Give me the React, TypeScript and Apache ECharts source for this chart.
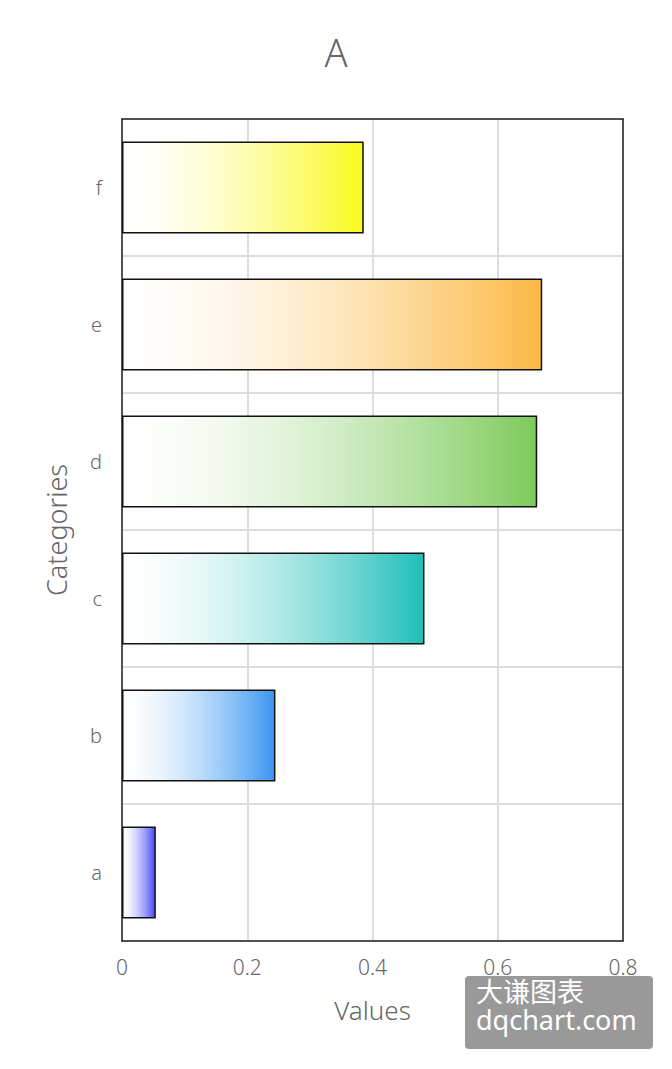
import React, { useEffect, useRef } from "react";
import * as echarts from "echarts";

const categories = ["a", "b", "c", "d", "e", "f"];
const values = [0.054, 0.245, 0.483, 0.663, 0.671, 0.386];
const barColors = ["#4a4af8", "#3a96f0", "#1fbfb8", "#7ccb5a", "#fbb843", "#f9f91c"];
const xTicks = [0, 0.2, 0.4, 0.6, 0.8];

function hexToRgb(hex: string) {
  const n = parseInt(hex.slice(1), 16);
  return [(n >> 16) & 255, (n >> 8) & 255, n & 255];
}

function gradientFor(hex: string) {
  const [r, g, b] = hexToRgb(hex);
  const stops = [];
  for (let k = 0; k <= 8; k++) {
    const t = k / 8;
    const a = Math.pow(t, 1.6);
    const mix = (c: number) => Math.round(255 + (c - 255) * a);
    stops.push({ offset: t, color: `rgb(${mix(r)},${mix(g)},${mix(b)})` });
  }
  return new echarts.graphic.LinearGradient(0, 0, 1, 0, stops);
}

export default function App() {
  const ref = useRef<HTMLDivElement>(null);
  useEffect(() => {
    if (!ref.current) return;
    const chart = echarts.init(ref.current, null, { renderer: "svg" });
    const font = "Noto Sans";
    const borderLine = { show: true, onZero: false, lineStyle: { color: "#222", width: 1.5 } };
    chart.setOption({
      animation: false,
      backgroundColor: "#ffffff",
      title: {
        text: "A",
        left: "center",
        top: 28,
        textStyle: { fontSize: 38, fontWeight: 300, color: "#666", fontFamily: font },
      },
      grid: {
        left: 122,
        right: 49,
        top: 119,
        bottom: 128,
      },
      xAxis: [
        {
          type: "value",
          min: xTicks[0],
          max: xTicks[xTicks.length - 1],
          interval: 0.2,
          name: "Values",
          nameLocation: "middle",
          nameGap: 56,
          nameTextStyle: { fontSize: 26, color: "#666", fontFamily: font, fontWeight: 300 },
          axisLine: borderLine,
          axisTick: { show: false },
          axisLabel: { fontSize: 21, color: "#666", margin: 15, fontFamily: font, fontWeight: 300 },
          splitLine: { show: true, lineStyle: { color: "#ddd", width: 2 } },
        },
        {
          type: "value",
          position: "top",
          min: xTicks[0],
          max: xTicks[xTicks.length - 1],
          interval: 0.2,
          axisLine: borderLine,
          axisTick: { show: false },
          axisLabel: { show: false },
          splitLine: { show: false },
          z: 5,
        },
      ],
      yAxis: [
        {
          type: "category",
          data: categories,
          name: "Categories",
          nameLocation: "middle",
          nameGap: 52,
          nameTextStyle: { fontSize: 27, color: "#666", fontFamily: font, fontWeight: 300 },
          axisLine: borderLine,
          axisTick: { show: false },
          axisLabel: { fontSize: 20, color: "#666", margin: 20, fontFamily: font, fontWeight: 300 },
          splitLine: { show: true, lineStyle: { color: "#ddd", width: 2 } },
        },
        {
          type: "category",
          data: categories,
          position: "right",
          axisLine: borderLine,
          axisTick: { show: false },
          axisLabel: { show: false },
          splitLine: { show: false },
          z: 5,
        },
      ],
      series: [
        {
          type: "bar",
          xAxisIndex: 0,
          yAxisIndex: 0,
          barWidth: "67%",
          data: values.map((v, i) => ({
            value: v,
            itemStyle: {
              color: gradientFor(barColors[i]),
              borderColor: "#111",
              borderWidth: 1.5,
            },
          })),
        },
      ],
      graphic: [
        {
          type: "rect",
          left: 465,
          top: 976,
          shape: { width: 188, height: 73, r: 4 },
          style: { fill: "#999" },
          z: 100,
        },
        {
          type: "text",
          left: 476,
          top: 977,
          style: { text: "大谦图表", fill: "#fff", fontSize: 27, fontFamily: "Noto Sans CJK SC" },
          z: 101,
        },
        {
          type: "text",
          left: 476,
          top: 1006,
          style: { text: "dqchart.com", fill: "#fff", fontSize: 27, fontFamily: font },
          z: 101,
        },
      ],
    });
    return () => chart.dispose();
  }, []);
  return (
    <div
      ref={ref}
      style={{ position: "fixed", left: 0, top: 0, width: 672, height: 1069 }}
    />
  );
}
